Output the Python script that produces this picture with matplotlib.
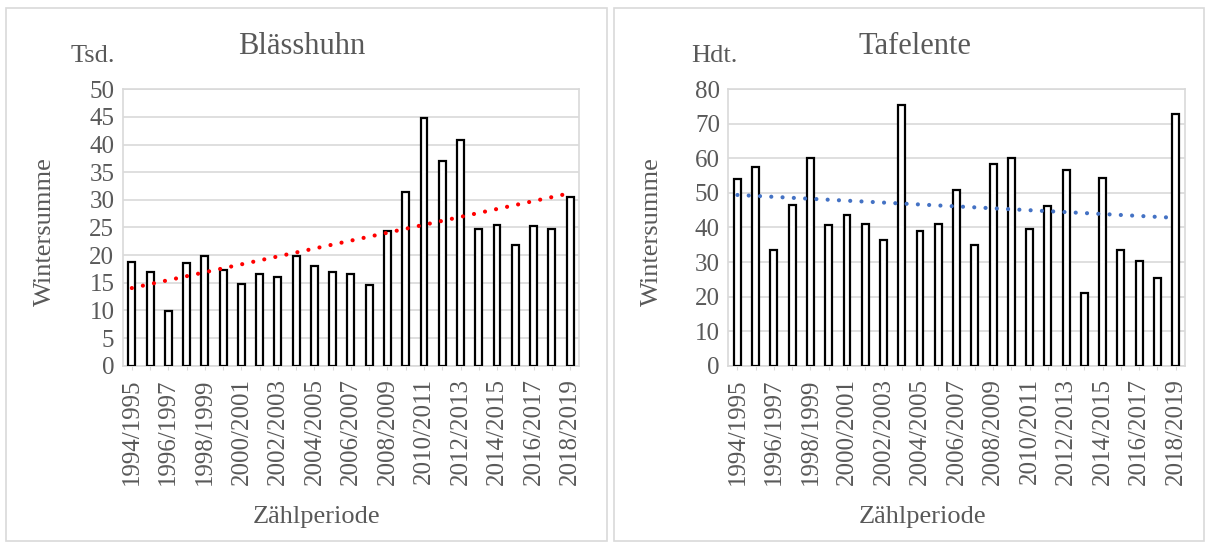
import numpy as np
import matplotlib
matplotlib.use("Agg")
import matplotlib.pyplot as plt
from matplotlib.patches import Rectangle

plt.rcParams["font.family"] = ["Liberation Serif", "DejaVu Serif"]

# Zählperioden 1994/1995 .. 2018/2019
seasons = [f"{y}/{y + 1}" for y in range(1994, 2019)]

# Blässhuhn, Wintersumme in Tausend
coot = [18.7, 16.9, 9.9, 18.5, 19.8, 17.4, 14.7, 16.6, 16.0, 19.8, 18.1, 16.9, 16.6,
        14.6, 24.4, 31.4, 44.8, 37.0, 40.8, 24.8, 25.5, 21.9, 25.2, 24.8, 30.6]

# Tafelente, Wintersumme in Hundert
pochard = [54.1, 57.5, 33.6, 46.4, 60.1, 40.7, 43.6, 41.0, 36.4, 75.5, 38.9, 40.9, 50.9,
           35.0, 58.5, 60.0, 39.7, 46.1, 56.6, 20.9, 54.2, 33.5, 30.2, 25.5, 72.9]

GREY = "#595959"
LIGHT = "#d9d9d9"

fig = plt.figure(figsize=(12.09, 5.43), dpi=100)

# panel frames
for x0, x1 in [(6, 607), (614, 1204)]:
    fig.patches.append(Rectangle((x0 / 1209, 1 - 541 / 543), (x1 - x0) / 1209, 533 / 543,
                                 transform=fig.transFigure, fill=False,
                                 edgecolor=LIGHT, linewidth=1.2))


def panel(left, values, ymax, step, trend_color, title, unit, title_x, unit_x, label_x, ylab_x):
    ax = fig.add_axes([left / 1209, 1 - 365.7 / 543, 456.5 / 1209, 276.4 / 543])
    x = np.arange(len(values))
    ax.bar(x, values, width=0.38, facecolor="white", edgecolor="black", linewidth=1.6, zorder=3)
    # linear trend, drawn as round dots
    k, d = np.polyfit(x, values, 1)
    ax.plot(x, k * x + d, color=trend_color, linestyle=(0, (0.01, 2.7)),
            linewidth=3.0, dash_capstyle="round", zorder=4)
    ax.set_xlim(-0.5, len(values) - 0.5)
    ax.set_ylim(0, ymax)
    ax.set_yticks(np.arange(0, ymax + 1, step))
    ax.yaxis.grid(True, color=LIGHT, linewidth=1.2, zorder=0)
    for s in ax.spines.values():
        s.set_color(LIGHT)
        s.set_linewidth(1.2)
    ax.set_xticks(x)
    ax.set_xticklabels([s if i % 2 == 0 else "" for i, s in enumerate(seasons)], rotation=90)
    ax.tick_params(axis="x", length=3, color=LIGHT, labelsize=18, labelcolor=GREY, pad=6)
    ax.tick_params(axis="y", length=0, labelsize=18, labelcolor=GREY, pad=6)
    fig.text(title_x / 1209, 1 - 47 / 543, title, ha="center", va="center", fontsize=22, color=GREY)
    fig.text(unit_x / 1209, 1 - 56 / 543, unit, ha="center", va="center", fontsize=19, color=GREY)
    fig.text(label_x / 1209, 1 - 517 / 543, "Zählperiode", ha="center", va="center",
             fontsize=19, color=GREY)
    fig.text(ylab_x / 1209, 1 - 232 / 543, "Wintersumme", ha="center", va="center",
             rotation=90, fontsize=19, color=GREY)
    return ax


panel(122.7, coot, 50, 5, "#ff0000", "Blässhuhn", "Tsd.", 302, 93, 317, 45)
panel(728.3, pochard, 80, 10, "#4472c4", "Tafelente", "Hdt.", 915, 714, 923, 652)

fig.savefig("out.png", dpi=100)
